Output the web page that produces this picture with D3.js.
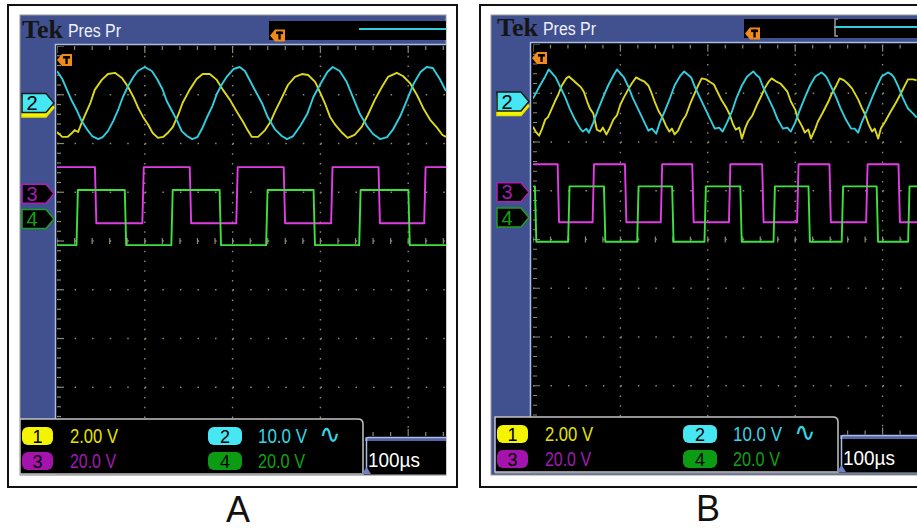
<!DOCTYPE html>
<html>
<head>
<meta charset="utf-8">
<script src="https://cdn.jsdelivr.net/npm/d3@7"></script>
<style>
  body { margin: 0; background: #fff; }
  text { font-family: "Liberation Sans Narrow", "Liberation Sans", Arial, sans-serif; }
</style>
</head>
<body>
<div id="chart"></div>
<script>
// scope settings, same on both screens
var chNames = ["1", "2", "3", "4"];
var chScaleText = ["2.00 V", "10.0 V", "20.0 V", "20.0 V"];
var voltsPerDiv = [2, 10, 20, 20];
var chOffsets = [2.77, 2.83, 0.97, 0.45];   // ground marker, divisions above centre
var timeText = "100\u00b5s";
var panelLabels = ["A", "B"];

// screen A, points are [time in us, volts]
var ch1A = [[0,-1.07],[6,-1.27],[12,-1.27],[17,-1.11],[20,-0.99],[24,-1.07],[28,-0.70],[32,-0.37],[38,0.12],[43,0.66],[51,1.07],[58,1.31],[66,1.36],[74,1.15],[81,0.78],[87,0.37],[92,-0.04],[98,-0.45],[104,-0.78],[109,-1.11],[115,-1.31],[121,-1.27],[126,-1.11],[132,-0.86],[138,-0.37],[143,0.12],[151,0.66],[159,1.11],[166,1.31],[174,1.31],[182,1.07],[189,0.66],[197,0.25],[205,-0.25],[212,-0.66],[217,-0.99],[222,-1.27],[229,-1.27],[237,-0.99],[243,-0.66],[248,-0.25],[256,0.33],[263,0.86],[271,1.19],[279,1.31],[286,1.27],[294,0.99],[300,0.53],[305,0.12],[311,-0.45],[317,-0.78],[325,-1.11],[331,-1.31],[339,-1.19],[347,-0.86],[354,-0.37],[362,0.25],[370,0.78],[377,1.19],[387,1.36],[394,1.23],[402,0.94],[410,0.45],[417,-0.08],[425,-0.57],[433,-0.90],[439,-1.19],[443,-1.27]];
var ch2A = [[0,6.57],[6,4.93],[11,2.87],[17,0.41],[23,-1.64],[28,-3.70],[34,-5.34],[40,-6.77],[47,-7.39],[52,-6.98],[58,-5.75],[64,-3.70],[70,-1.23],[75,1.23],[81,3.49],[87,5.34],[92,6.57],[100,7.39],[108,6.57],[114,4.93],[120,2.87],[125,0.41],[131,-1.64],[137,-3.70],[142,-5.75],[148,-6.77],[154,-7.39],[160,-6.98],[165,-5.34],[171,-2.87],[177,-0.62],[182,1.85],[188,3.90],[194,5.54],[201,6.98],[208,7.39],[214,6.57],[226,2.46],[234,-0.21],[240,-2.87],[248,-5.34],[256,-6.77],[262,-7.39],[269,-6.77],[277,-4.72],[285,-2.26],[292,1.23],[300,3.90],[308,6.36],[314,7.39],[322,6.57],[330,4.31],[337,1.23],[345,-2.26],[353,-4.72],[360,-6.36],[368,-7.39],[376,-6.98],[383,-5.34],[391,-2.67],[399,0.82],[406,3.90],[414,6.36],[421,7.39],[428,7.19],[436,4.93],[443,2.46]];
var ch3AEdges = [44, 98, 152, 205, 259, 313, 367, 419];
var ch3ALevels = [10.9, -12.1];
var ch4AEdges = [23, 78, 131, 186, 239, 293, 345, 401];
var ch4ALevels = [-10.7, 11.9];

// screen B
var ch1B = [[0,-0.91],[3,-1.11],[7,-1.28],[10,-1.03],[14,-0.62],[17,-0.53],[21,-0.21],[25,0.12],[29,0.41],[33,0.78],[38,1.07],[41,1.15],[46,0.99],[50,0.86],[55,0.70],[58,0.53],[62,0.12],[65,-0.16],[69,-0.37],[73,-1.03],[77,-1.11],[80,-0.95],[84,-1.23],[87,-1.03],[92,-0.62],[96,-0.45],[100,0],[104,0.29],[109,0.62],[113,0.86],[118,1.11],[122,1.03],[127,0.95],[132,0.78],[135,0.53],[140,0.04],[144,-0.29],[148,-0.53],[152,-0.86],[156,-1.11],[159,-0.99],[162,-1.23],[166,-1.07],[171,-0.66],[175,-0.45],[180,0.04],[184,0.37],[189,0.78],[193,1.07],[198,1.03],[203,0.91],[207,0.82],[212,0.45],[216,0.16],[221,-0.12],[225,-0.41],[229,-0.82],[232,-1.03],[236,-0.95],[239,-1.40],[243,-0.95],[246,-0.70],[251,-0.45],[257,0.04],[262,0.41],[265,0.66],[270,0.95],[273,1.07],[278,0.95],[283,0.86],[287,0.70],[291,0.53],[295,0.12],[300,-0.21],[303,-0.58],[308,-0.91],[311,-1.15],[315,-1.03],[318,-1.40],[323,-0.99],[326,-0.70],[331,-0.37],[338,0.12],[342,0.45],[347,0.78],[351,1.07],[356,0.99],[360,0.86],[365,0.66],[372,0.21],[376,-0.12],[380,-0.41],[384,-0.82],[388,-1.11],[391,-0.99],[395,-1.40],[398,-0.99],[403,-0.70],[408,-0.37],[416,0.12],[422,0.53],[429,1.03],[435,1.03],[439,0.99]];
var ch2B = [[0,0.62],[8,3.29],[14,5.15],[18,6.59],[23,5.56],[26,4.94],[31,3.09],[37,0.82],[42,-1.44],[48,-3.70],[54,-5.56],[57,-6.17],[61,-5.56],[64,-6.38],[69,-4.32],[74,-1.85],[80,0.82],[86,3.29],[92,5.35],[96,6.59],[101,5.56],[104,4.94],[109,3.09],[114,0.82],[120,-1.44],[126,-3.70],[132,-5.97],[136,-5.56],[141,-6.59],[145,-4.32],[151,-1.85],[157,0.82],[162,3.29],[168,5.15],[173,6.17],[177,5.56],[181,4.94],[185,3.09],[191,0.82],[197,-1.44],[203,-3.70],[208,-5.56],[213,-5.35],[217,-6.17],[222,-4.32],[228,-1.85],[233,0.82],[239,3.29],[245,5.15],[252,6.17],[255,5.56],[259,4.94],[263,3.09],[269,0.82],[275,-1.44],[280,-3.70],[286,-5.56],[291,-5.35],[295,-6.17],[300,-4.32],[305,-1.85],[311,0.82],[317,3.29],[323,5.15],[330,5.97],[333,5.56],[336,4.94],[341,3.09],[347,0.82],[352,-1.44],[358,-3.70],[364,-5.56],[368,-5.56],[372,-6.38],[376,-4.32],[382,-1.85],[388,0.82],[394,3.29],[399,5.15],[406,5.97],[410,5.56],[413,4.94],[418,3.09],[423,0.82],[429,-1.44],[435,-2.47],[439,-3.29]];
var ch3BEdges = [29, 69, 106, 147, 183, 225, 263, 303, 340, 382, 419];
var ch3BLevels = [11.5, -12.3];
var ch4BEdges = [3, 41, 82, 120, 160, 197, 238, 276, 316, 354, 394, 430];
var ch4BLevels = [12.8, -9.9];

var W = 917, H = 529;
var blue = "#41508e", light = "#aabbe8", gridCol = "#8a8a74";
var traceCol = ["#dcd81c", "#2fcfe0", "#e23ce6", "#3ee03e"];
var badgeCol = ["#f4f400", "#46e6f2", "#a414ac", "#0c9c14"];
var textCol = ["#e6e200", "#34d6e6", "#a01cb0", "#10a018"];
var markStroke = ["#e6e200", "#1a1a1a", "#b020b8", "#20a020"];

var svg = d3.select("#chart").append("svg")
  .attr("width", W)
  .attr("height", H);
svg.append("rect").attr("width", W).attr("height", H).attr("fill", "#fff");

var panels = [
  {label: panelLabels[0], waves: [ch1A, ch2A], squares: [[ch3AEdges, ch3ALevels], [ch4AEdges, ch4ALevels]],
   frame: [8, 5, 449, 482], inner: [20, 15, 426, 460], dx: 0, dy: 0,
   gx: 57, gy: 46, divW: 87.8, divH: 48.75, right: 446, tEnd: 443, bracket: false, lx: 238, ly: 522},
  {label: panelLabels[1], waves: [ch1B, ch2B], squares: [[ch3BEdges, ch3BLevels], [ch4BEdges, ch4BLevels]],
   frame: [480, 5, 470, 482], inner: [491, 15, 460, 460], dx: 475, dy: -2,
   gx: 533, gy: 44.5, divW: 87.4, divH: 48.75, right: 917, tEnd: 440, bracket: true, lx: 708, ly: 521}
];

// square wave corners from the edge times
function squarePts(edges, levels, tEnd) {
  var k = 0, ramp = 1.6;
  var pts = [[0, levels[0]]];
  edges.forEach(function(t) {
    pts.push([t - ramp / 2, levels[k]]);
    k = 1 - k;
    pts.push([t + ramp / 2, levels[k]]);
  });
  pts.push([tEnd, levels[k]]);
  return pts;
}

function trigMark(g, tx, cy) {
  g.append("path")
    .attr("d", "M" + tx + "," + cy + "L" + (tx + 5) + "," + (cy - 6) + "H" + (tx + 15) + "V" + (cy + 6) + "H" + (tx + 5) + "Z")
    .attr("fill", "#f08a1a");
  g.append("rect").attr("x", tx + 6).attr("y", cy - 4).attr("width", 7).attr("height", 2.6).attr("fill", "#000");
  g.append("rect").attr("x", tx + 8.4).attr("y", cy - 4).attr("width", 2.3).attr("height", 8).attr("fill", "#000");
}

panels.forEach(function(p, pi) {
  var x = d3.scaleLinear().domain([0, 1000]).range([p.gx, p.gx + 10 * p.divW]);
  var y = d3.scaleLinear().domain([-4, 4]).range([p.gy + 8 * p.divH, p.gy]);
  var R = p.right - p.dx;

  // photo frame and screen
  svg.append("rect")
    .attr("x", p.frame[0]).attr("y", p.frame[1])
    .attr("width", p.frame[2]).attr("height", p.frame[3])
    .attr("fill", "#fff").attr("stroke", "#111").attr("stroke-width", 2);
  svg.append("rect")
    .attr("x", p.inner[0]).attr("y", p.inner[1])
    .attr("width", p.inner[2]).attr("height", p.inner[3])
    .attr("fill", blue).attr("stroke", "#9a9a9a").attr("stroke-width", 1);

  var g = svg.append("g").attr("transform", "translate(" + p.dx + "," + p.dy + ")");
  g.append("rect").attr("x", 56).attr("y", 44).attr("width", R - 56).attr("height", 431).attr("fill", "#000");

  // header bar
  g.append("rect").attr("x", 269).attr("y", 21).attr("width", R - 269).attr("height", 19).attr("fill", "#000");
  g.append("line").attr("x1", 359).attr("x2", R).attr("y1", 29).attr("y2", 29)
    .attr("stroke", traceCol[1]).attr("stroke-width", 2);
  if (p.bracket) {
    g.append("path").attr("d", "M363,21H360V38H363").attr("fill", "none").attr("stroke", "#9a9a9a").attr("stroke-width", 1.5);
  }
  trigMark(g, 270, 35.5);
  g.append("text").attr("x", 22).attr("y", 38)
    .style("font-family", "'Liberation Serif', 'DejaVu Serif', serif")
    .attr("font-weight", "bold").attr("font-size", 25).attr("fill", "#151515")
    .attr("textLength", 41).attr("lengthAdjust", "spacingAndGlyphs")
    .text("Tek");
  g.append("text").attr("x", 68).attr("y", 37)
    .attr("font-size", 18).attr("fill", "#eef0ff")
    .attr("textLength", 53).attr("lengthAdjust", "spacingAndGlyphs")
    .text("Pres Pr");

  // graticule
  var clipId = "clip" + pi;
  svg.append("clipPath").attr("id", clipId).append("rect")
    .attr("x", p.gx).attr("y", p.gy).attr("width", p.right - p.gx).attr("height", 8 * p.divH + 1);
  var gg = svg.append("g").attr("clip-path", "url(#" + clipId + ")");

  gg.selectAll(".vgrid").data(d3.range(100, 1000, 100)).enter().append("line")
    .attr("x1", x).attr("x2", x).attr("y1", y(4)).attr("y2", y(-4))
    .attr("stroke", gridCol).attr("stroke-width", 1.4)
    .attr("stroke-dasharray", "1.5," + (p.divH / 5 - 1.5));
  gg.selectAll(".hgrid").data(d3.range(-3, 4)).enter().append("line")
    .attr("x1", x(0)).attr("x2", x(1000)).attr("y1", y).attr("y2", y)
    .attr("stroke", gridCol).attr("stroke-width", 1.4)
    .attr("stroke-dasharray", "1.5," + (p.divW / 5 - 1.5));

  var minorT = d3.range(0, 1001, 20);
  gg.selectAll(".ttick").data(minorT).enter().append("line")
    .attr("x1", x).attr("x2", x).attr("y1", y(4))
    .attr("y2", function(t) { return y(4) + (t % 100 === 0 ? 7 : 4); })
    .attr("stroke", gridCol).attr("stroke-width", 1.2);
  gg.selectAll(".btick").data(minorT).enter().append("line")
    .attr("x1", x).attr("x2", x).attr("y1", y(-4))
    .attr("y2", function(t) { return y(-4) - (t % 100 === 0 ? 7 : 4); })
    .attr("stroke", gridCol).attr("stroke-width", 1.2);
  gg.selectAll(".ctick").data(minorT).enter().append("line")
    .attr("x1", x).attr("x2", x).attr("y1", y(0) - 3).attr("y2", y(0) + 3)
    .attr("stroke", gridCol).attr("stroke-width", 1.2);
  gg.selectAll(".ltick").data(d3.range(-20, 21)).enter().append("line")
    .attr("x1", x(0)).attr("x2", function(d) { return x(0) + (d % 5 === 0 ? 7 : 4); })
    .attr("y1", function(d) { return y(d / 5); }).attr("y2", function(d) { return y(d / 5); })
    .attr("stroke", gridCol).attr("stroke-width", 1.2);

  // traces
  function lineFor(ch) {
    return d3.line()
      .x(function(d) { return x(d[0]); })
      .y(function(d) { return y(d[1] / voltsPerDiv[ch] + chOffsets[ch]); });
  }
  p.waves.forEach(function(w, i) {
    gg.append("path").attr("d", lineFor(i)(w))
      .attr("fill", "none").attr("stroke", traceCol[i]).attr("stroke-width", 1.9)
      .attr("stroke-linejoin", "round");
  });
  p.squares.forEach(function(s, i) {
    gg.append("path").attr("d", lineFor(i + 2)(squarePts(s[0], s[1], p.tEnd)))
      .attr("fill", "none").attr("stroke", traceCol[i + 2]).attr("stroke-width", 1.9)
      .attr("stroke-linejoin", "round");
  });

  var g2 = svg.append("g").attr("transform", "translate(" + p.dx + "," + p.dy + ")");
  trigMark(g2, 57, 60);

  // readout box
  g2.append("path").attr("d", "M20,419H358Q363,419 363,424V474H20Z")
    .attr("fill", "#000").attr("stroke", "#c4c4c4").attr("stroke-width", 1.5);
  g2.append("rect").attr("x", 365).attr("y", 437).attr("width", R - 365).attr("height", 4).attr("fill", "#5566a8");
  g2.append("path").attr("d", "M366.5,474V439Q366.5,437.5 368,437.5H" + R)
    .attr("fill", "none").attr("stroke", light).attr("stroke-width", 1.5);
  g2.append("path").attr("d", "M362,474L371,474L366.5,467Z").attr("fill", "#6f80c4");
  g2.append("line").attr("x1", 20).attr("x2", R).attr("y1", 475).attr("y2", 475)
    .attr("stroke", "#b0b0b0").attr("stroke-width", 1);

  var badgeX = [22, 208, 22, 208], badgeW = [31, 34, 31, 34], rowY = [427, 427, 452, 452];
  var valX = [70, 258, 70, 258], valW = [48, 49, 46, 47];
  chNames.forEach(function(n, i) {
    g2.append("rect").attr("x", badgeX[i]).attr("y", rowY[i]).attr("width", badgeW[i]).attr("height", 18)
      .attr("rx", 6).attr("fill", badgeCol[i]);
    g2.append("text").attr("x", badgeX[i] + badgeW[i] / 2).attr("y", rowY[i] + 16)
      .attr("text-anchor", "middle").attr("font-size", 18).attr("fill", "#000").text(n);
    g2.append("text").attr("x", valX[i]).attr("y", rowY[i] + 16)
      .attr("font-size", 20).attr("fill", textCol[i])
      .attr("textLength", valW[i]).attr("lengthAdjust", "spacingAndGlyphs")
      .text(chScaleText[i]);
  });
  g2.append("text").attr("x", 330).attr("y", 443).attr("text-anchor", "middle")
    .style("font-family", "'DejaVu Sans', sans-serif").attr("font-size", 26)
    .attr("fill", textCol[1]).text("\u223f");
  g2.append("text").attr("x", 368).attr("y", 467)
    .attr("font-size", 20).attr("fill", "#fff")
    .attr("textLength", 52).attr("lengthAdjust", "spacingAndGlyphs")
    .text(timeText);

  // channel ground markers on the left
  var gm = svg.append("g").attr("transform", "translate(" + p.dx + ",0)");
  [0, 1, 2, 3].forEach(function(i) {
    var cy = y(chOffsets[i]) + (i === 0 ? 1.5 : 0);
    var fill = i < 2 ? badgeCol[i] : "#000";
    gm.append("path")
      .attr("d", "M22," + (cy - 9.5) + "H46L54," + cy + "L46," + (cy + 9.5) + "H22Z")
      .attr("fill", fill).attr("stroke", markStroke[i]).attr("stroke-width", 1.5);
    if (i > 0) {
      gm.append("text").attr("x", 32).attr("y", cy + 7).attr("text-anchor", "middle")
        .attr("font-size", 20).attr("fill", i < 2 ? "#000" : textCol[i]).text(chNames[i]);
    }
  });

  // light border round the graticule
  g2.append("line").attr("x1", 55.5).attr("x2", 55.5).attr("y1", 44).attr("y2", 419)
    .attr("stroke", light).attr("stroke-width", 1.5);
  g2.append("line").attr("x1", 55).attr("x2", R).attr("y1", 44.5).attr("y2", 44.5)
    .attr("stroke", light).attr("stroke-width", 1.5);

  svg.append("text").attr("x", p.lx).attr("y", p.ly).attr("text-anchor", "middle")
    .style("font-family", "'Liberation Sans', Arial, sans-serif")
    .attr("font-size", 36).attr("fill", "#111").text(p.label);
});
</script>
</body>
</html>
